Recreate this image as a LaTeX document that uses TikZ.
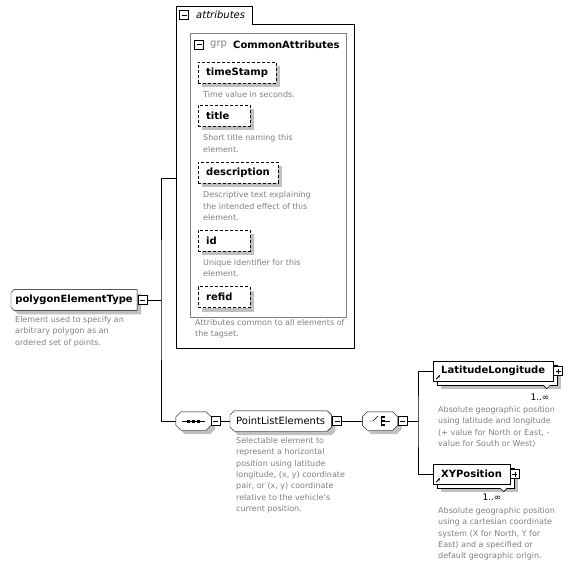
\documentclass[tikz,border=0pt]{standalone}
\usepackage{fontspec}
\setmainfont{DejaVu Sans}
\usetikzlibrary{positioning,shadows,arrows.meta,backgrounds}

\definecolor{descgray}{RGB}{128,128,128}
\definecolor{shadowgray}{RGB}{192,192,192}

\tikzset{
  shade box/.style={drop shadow={shadow xshift=4pt,shadow yshift=-4pt,fill=shadowgray,opacity=1}},
  multi box/.style={drop shadow={shadow xshift=8pt,shadow yshift=-8pt,fill=shadowgray,opacity=1},
                    copy shadow={shadow xshift=4pt,shadow yshift=-4pt}},
  elem/.style={draw,fill=white,minimum height=20pt,inner xsep=8pt,inner ysep=0pt,
               font=\fontsize{10}{12}\selectfont\bfseries},
  attbox/.style={elem,shade box,dash pattern=on 3pt off 2pt,minimum height=21pt,anchor=west,align=left},
  desc/.style={anchor=north west,inner sep=0pt,align=left,text=descgray,
               font=\fontsize{8}{11.4}\selectfont},
  model/.style={minimum width=35pt,minimum height=18pt,inner sep=0pt},
  shadowfill/.style={fill=shadowgray},
  framefill/.style={draw,fill=white},
  toggle/.style={draw,fill=white,minimum size=9pt,inner sep=0pt},
  minus/.style={toggle,path picture={
      \draw ([xshift=2pt]path picture bounding box.west) -- ([xshift=-2pt]path picture bounding box.east);}},
  plus/.style={toggle,path picture={
      \draw ([xshift=2pt]path picture bounding box.west) -- ([xshift=-2pt]path picture bounding box.east)
            ([yshift=2pt]path picture bounding box.south) -- ([yshift=-2pt]path picture bounding box.north);}},
  many/.style={font=\fontsize{9}{11}\selectfont,inner sep=0pt}
}

% bevelled frame with shadow behind a node: node, left cut, right cut
\newcommand\bevelframe[3]{%
  \begin{pgfonlayer}{background}
  \foreach \sh/\st in {4pt/shadowfill,0pt/framefill}{%
    \path[\st] ([xshift=#2+\sh,yshift=-\sh]#1.north west) -- ([xshift=-#3+\sh,yshift=-\sh]#1.north east)
       -- ([xshift=\sh,yshift=-#3-\sh]#1.north east) -- ([xshift=\sh,yshift=#3-\sh]#1.south east)
       -- ([xshift=-#3+\sh,yshift=-\sh]#1.south east) -- ([xshift=#2+\sh,yshift=-\sh]#1.south west)
       -- ([xshift=\sh,yshift=#2-\sh]#1.south west) -- ([xshift=\sh,yshift=-#2-\sh]#1.north west) -- cycle;}
  \end{pgfonlayer}}

\begin{document}
\begin{tikzpicture}[x=1pt,y=-1pt,line width=0.8pt]
    \useasboundingbox (0,0) rectangle (577,569);

    % complex type
    \node[elem,draw=none,fill=none,inner xsep=4pt,anchor=west] (poly) at (11,300) {polygonElementType};
    \bevelframe{poly}{3pt}{0pt}
    \node[minus,right=1pt of poly] (polymin) {};
    \node[desc] at (15,316) {Element used to specify an\\arbitrary polygon as an\\ordered set of points.};

    % attributes
    \node[minimum width=178pt,minimum height=324pt,anchor=north west,inner sep=0pt] (attrbox) at (176,24) {};
    \draw (attrbox.south west) -- (176,6) -- (252,6) -- (252,24) -- (attrbox.north east)
          -- (attrbox.south east) -- cycle;
    \node[minus] (attrmin) at (184,15) {};
    \node[anchor=west,inner sep=0pt,font=\fontsize{10}{12}\selectfont\itshape] at (196,15) {attributes};

    \draw[descgray] (190,33) rectangle (346,317);
    \node[minus] (grpmin) at (199,44.5) {};
    \node[anchor=west,inner sep=0pt,text=descgray,font=\fontsize{10}{12}\selectfont] at (210,44.5) {grp};
    \node[anchor=west,inner sep=0pt,font=\fontsize{10}{12}\selectfont\bfseries] at (233,44.5) {CommonAttributes};

    \foreach \lbl/\w/\y/\txt in {timeStamp/62/72.5/{Time value in seconds.},
                                title/36/116/{Short title naming this\\element.},
                                description/64/173/{Descriptive text explaining\\the intended effect of this\\element.},
                                id/36/240.5/{Unique identifier for this\\element.},
                                refid/36/297/{}}{%
        \node[attbox,text width=\w pt] (\lbl) at (198,\y) {\lbl};
        \node[desc,below right=8pt and 5pt of \lbl.south west] {\txt};}

    \node[desc] (footer) at (195,319) {Attributes common to all elements of\\the tagset.};

    % content model
    \node[model] (seq) at (193.5,421) {};
    \bevelframe{seq}{5pt}{5pt}
    \begin{scope}[shift={(seq.center)}]
        \draw (-11.5,0) -- (11.5,0);
        \foreach \d in {-5,0,5}
            \fill (\d-1.5,-1.5) rectangle (\d+1.5,1.5);
    \end{scope}
    \node[minus,right=0pt of seq] (seqmin) {};

    \node[elem,draw=none,fill=none,inner xsep=6pt,font=\fontsize{10}{12}\selectfont,anchor=west]
        (plist) at (230,421) {PointListElements};
    \bevelframe{plist}{4pt}{4pt}
    \node[minus,right=1pt of plist] (plistmin) {};
    \node[desc] at (236,437) {Selectable element to\\represent a horizontal\\position using latitude\\longitude, (x, y) coordinate\\pair, or (x, y) coordinate\\relative to the vehicle's\\current position.};

    \node[model] (choice) at (380,421) {};
    \bevelframe{choice}{5pt}{5pt}
    \begin{scope}[shift={(choice.center)}]
        \draw (-11,0) -- (-7,0) -- (-2,-5);
        \draw (1,-5) -- (1,5);
        \foreach \d in {-4,0,4}
            \fill (2,\d-1.2) rectangle (4.5,\d+1.2);
        \draw (4.5,0) -- (10,0);
    \end{scope}
    \node[minus,right=0pt of choice] (choicemin) {};
    \coordinate (branch) at (418,421);

    % elements
    \node[elem,multi box,anchor=west] (latlong) at (433,371) {LatitudeLongitude};
    \node[plus,right=0pt of latlong] (latlongplus) {};
    \draw[fill=white,line width=0.6pt] ([xshift=-10pt,yshift=-4pt]latlong.south east) -- ++(3.5,3.5) -- ++(3.5,-3.5);
    \draw[-{Stealth[length=2.5pt,width=2.5pt]},line width=0.8pt] ([xshift=3pt,yshift=2pt]latlong.south west) -- ++(4,-4);
    \node[many] at (540,397) {1..∞};
    \node[desc] at (438,406) {Absolute geographic position\\using latitude and longitude\\(+ value for North or East, -\\value for South or West)};

    \node[elem,multi box,anchor=west] (xypos) at (433,474) {XYPosition};
    \node[plus,right=0pt of xypos] (xyplus) {};
    \draw[fill=white,line width=0.6pt] ([xshift=-10pt,yshift=-4pt]xypos.south east) -- ++(3.5,3.5) -- ++(3.5,-3.5);
    \draw[-{Stealth[length=2.5pt,width=2.5pt]},line width=0.8pt] ([xshift=3pt,yshift=2pt]xypos.south west) -- ++(4,-4);
    \node[many] at (492,497) {1..∞};
    \node[desc] at (438,507) {Absolute geographic position\\using a cartesian coordinate\\system (X for North, Y for\\East) and a specified or\\default geographic origin.};

    % connectors
    \coordinate (fork) at (161,300);
    \coordinate (attin) at (attrbox.west |- 0,178);
    \draw (polymin.east) -- (fork);
    \draw (attin) -| (fork) |- (seq.west);
    \draw (seqmin.east) -- (plist.west);
    \draw (plistmin.east) -- (choice.west);
    \draw (choicemin.east) -- (branch);
    \draw (latlong.west) -| (branch) |- (xypos.west);
\end{tikzpicture}
\end{document}
